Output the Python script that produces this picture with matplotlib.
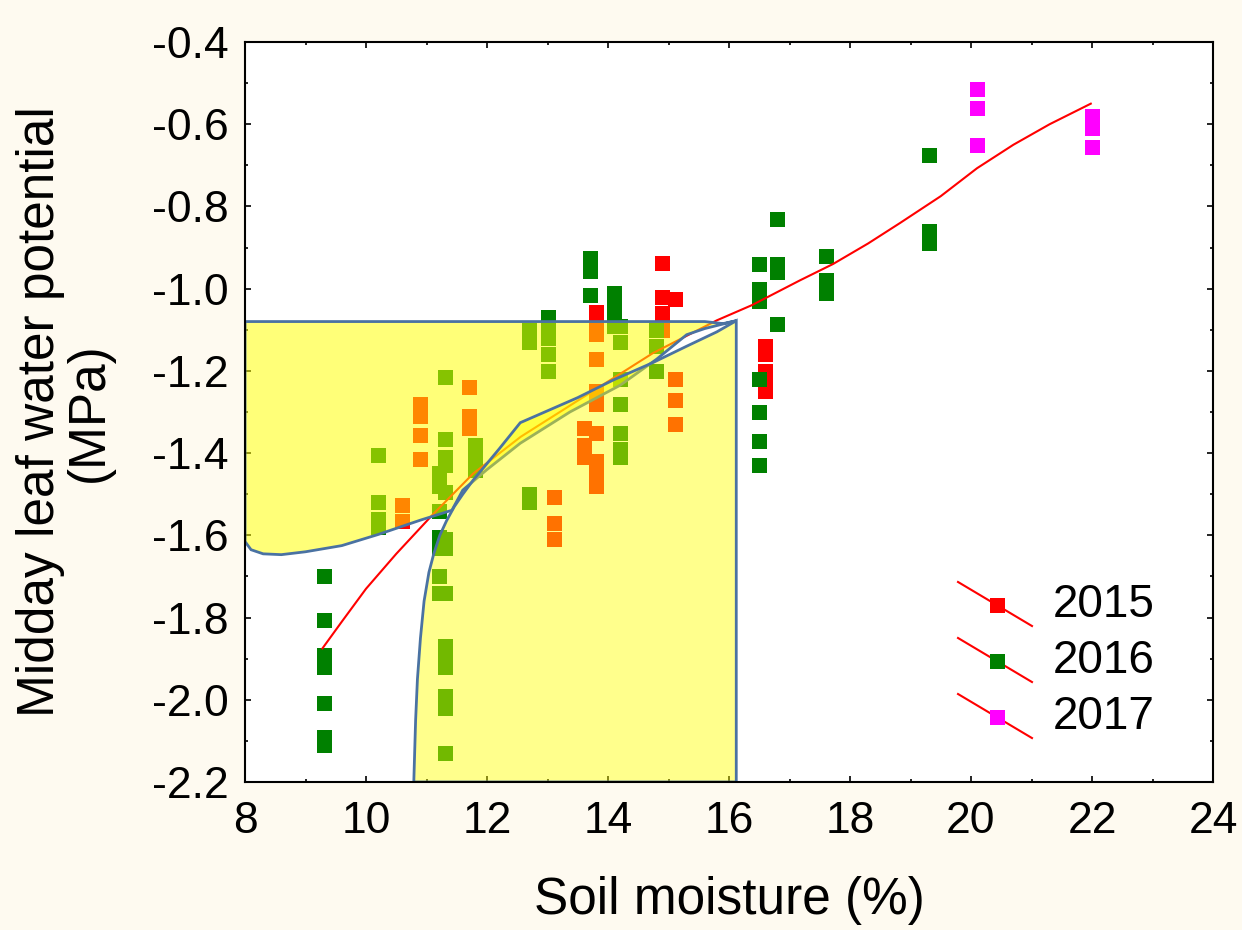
import matplotlib
matplotlib.use("Agg")
import matplotlib.pyplot as plt
from matplotlib.patches import Polygon
from matplotlib.ticker import MultipleLocator

plt.rcParams['font.family'] = ['Liberation Sans', 'DejaVu Sans']

# --- data ---
soil_2015 = [10.6, 10.6,
             10.9, 10.9, 10.9, 10.9,
             11.7, 11.7, 11.7,
             13.1, 13.1, 13.1,
             13.6, 13.6, 13.6,
             13.8, 13.8, 13.8, 13.8, 13.8, 13.8, 13.8, 13.8, 13.8, 13.8,
             14.9, 14.9, 14.9, 14.9,
             15.1, 15.1, 15.1, 15.1,
             16.6, 16.6, 16.6, 16.6, 16.6]
psi_2015 = [-1.527, -1.565,
            -1.28, -1.31, -1.356, -1.415,
            -1.24, -1.31, -1.34,
            -1.507, -1.57, -1.61,
            -1.34, -1.38, -1.41,
            -1.057, -1.09, -1.11, -1.17, -1.25, -1.28, -1.35, -1.42, -1.45, -1.48,
            -0.938, -1.02, -1.06, -1.10,
            -1.025, -1.22, -1.27, -1.33,
            -1.14, -1.16, -1.20, -1.23, -1.25]

soil_2016 = [9.3] * 7 + [10.2] * 4 + [11.2] * 7 + [11.3] * 14 + [11.8] * 4 + \
            [12.7] * 4 + [13.0] * 5 + [13.7] * 3 + [14.1] * 4 + [14.2] * 7 + \
            [14.8] * 3 + [16.5] * 7 + [16.8] * 4 + [17.6] * 3 + [19.3] * 3
psi_2016 = [-1.70, -1.806, -1.89, -1.92, -2.008, -2.09, -2.11,
            -1.405, -1.52, -1.56, -1.58,
            -1.449, -1.48, -1.54, -1.604, -1.63, -1.70, -1.74,
            -1.215, -1.366, -1.41, -1.43, -1.495, -1.61, -1.63, -1.74, -1.87,
            -1.89, -1.92, -1.99, -2.02, -2.13,
            -1.38, -1.40, -1.42, -1.44,
            -1.10, -1.13, -1.50, -1.52,
            -1.07, -1.09, -1.12, -1.16, -1.20,
            -0.925, -0.957, -1.015,
            -1.01, -1.04, -1.06, -1.09,
            -1.09, -1.13, -1.22, -1.28, -1.35, -1.39, -1.41,
            -1.10, -1.14, -1.20,
            -0.94, -1.00, -1.03, -1.22, -1.30, -1.37, -1.43,
            -0.83, -0.94, -0.96, -1.085,
            -0.92, -0.98, -1.01,
            -0.675, -0.86, -0.89]

soil_2017 = [20.1, 20.1, 20.1, 22.0, 22.0, 22.0]
psi_2017 = [-0.515, -0.56, -0.65, -0.58, -0.61, -0.655]

# fitted curve (traced)
fit_soil = [9.28, 9.6, 10.0, 10.5, 11.1, 11.77, 12.56, 13.59, 14.74, 15.8,
            16.38, 17.17, 17.72, 18.3, 18.83, 19.5, 20.1, 20.7, 21.3, 21.98]
fit_psi = [-1.875, -1.81, -1.73, -1.645, -1.55, -1.45, -1.36, -1.264, -1.157,
           -1.077, -1.04, -0.98, -0.94, -0.89, -0.84, -0.775, -0.707, -0.65,
           -0.60, -0.55]

# shaded envelope boundaries (traced)
envA_soil = [8.0, 8.0, 15.6, 15.9, 16.12, 15.6, 15.3, 14.8, 14.2, 13.37,
             12.55, 12.0, 11.6, 11.42, 10.9, 10.2, 9.6, 9.0, 8.6, 8.3, 8.1,
             8.0]
envA_psi = [-1.615, -1.08, -1.08, -1.085, -1.078, -1.097, -1.112, -1.172,
            -1.235, -1.30, -1.376, -1.44, -1.49, -1.539, -1.563, -1.598,
            -1.625, -1.640, -1.647, -1.645, -1.635, -1.615]
envB_soil = [10.79, 10.80, 10.82, 10.85, 10.90, 10.96, 11.04, 11.12, 11.22,
             11.33, 11.46, 11.6, 11.77, 12.2, 12.55, 13.5, 14.09, 14.74, 15.3,
             15.8, 16.12, 16.12]
envB_psi = [-2.2, -2.15, -2.05, -1.95, -1.85, -1.76, -1.69, -1.645, -1.60,
            -1.565, -1.53, -1.50, -1.466, -1.39, -1.326, -1.265, -1.222,
            -1.18, -1.14, -1.105, -1.078, -2.2]

years = ['2015', '2016', '2017']
colors = ['#FF0000', '#008000', '#FF00FF']

fig = plt.figure(figsize=(12.42, 9.30), dpi=100, facecolor='#FEFAF0')
ax = fig.add_axes([245 / 1242, 1 - 782 / 930, 968 / 1242, 740 / 930])
ax.set_facecolor('white')

ms = 10.8
for sx, sy, c in [(soil_2015, psi_2015, colors[0]),
                  (soil_2016, psi_2016, colors[1]),
                  (soil_2017, psi_2017, colors[2])]:
    ax.plot(sx, sy, 's', color=c, ms=ms, mew=0, zorder=2)

ax.plot(fit_soil, fit_psi, color='#FF0000', lw=1.5, zorder=3)

edge = '#4A72A2'
polyA = Polygon(list(zip(envA_soil, envA_psi)), closed=True,
                facecolor=(1, 1, 0, 0.53), edgecolor=edge, lw=2, zorder=4)
polyB = Polygon(list(zip(envB_soil, envB_psi)), closed=True,
                facecolor=(1, 1, 0, 0.45), edgecolor=edge, lw=2, zorder=5)
ax.add_patch(polyA)
ax.add_patch(polyB)

ax.set_xlim(8, 24)
ax.set_ylim(-2.2, -0.4)
ax.xaxis.set_major_locator(MultipleLocator(2))
ax.xaxis.set_minor_locator(MultipleLocator(1))
ax.yaxis.set_major_locator(MultipleLocator(0.2))
ax.yaxis.set_minor_locator(MultipleLocator(0.1))
ax.set_yticklabels([f'{v:.1f}' for v in ax.get_yticks()])
ax.tick_params(which='both', direction='in', top=True, right=True, width=1.2)
ax.tick_params(which='major', length=4, labelsize=32)
ax.tick_params(axis='x', which='major', pad=14)
ax.tick_params(axis='y', which='major', pad=12)
ax.tick_params(which='minor', length=2.5)
for s in ax.spines.values():
    s.set_linewidth(1.5)
    s.set_zorder(6)

ax.set_xlabel('Soil moisture (%)', fontsize=37, labelpad=24)
ax.set_ylabel('Midday leaf water potential\n(MPa)', fontsize=37, labelpad=27,
              linespacing=1.0)

# legend drawn by hand: slanted line with square marker
for i, (yr, c) in enumerate(zip(years, colors)):
    dy = -i * 0.0757
    ax.plot([0.7366, 0.813], [0.2703 + dy, 0.2108 + dy], color='#FF0000',
            lw=1.5, transform=ax.transAxes, clip_on=False, zorder=7)
    ax.plot([0.7769], [0.2392 + dy], 's', color=c, ms=ms, mew=0,
            transform=ax.transAxes, clip_on=False, zorder=8)
    ax.text(0.8347, 0.2392 + dy, yr, fontsize=33, va='center', ha='left',
            transform=ax.transAxes, zorder=8)

fig.savefig('out.png', dpi=100, facecolor=fig.get_facecolor())
